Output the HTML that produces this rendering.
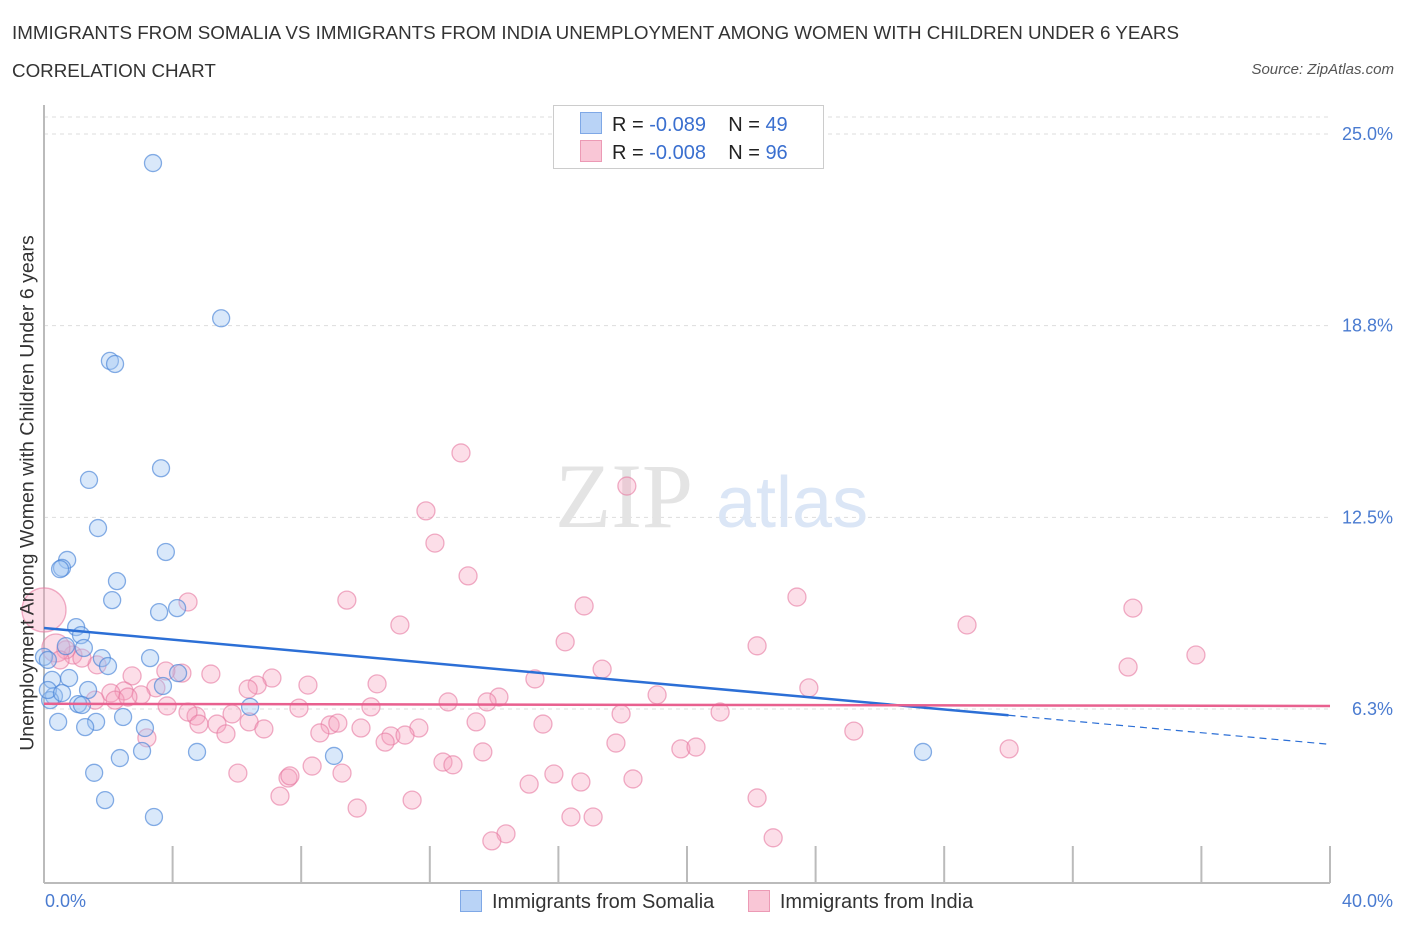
<!DOCTYPE html>
<html><head><meta charset="utf-8"><style>
body{margin:0;background:#fff;font-family:"Liberation Sans",sans-serif;}
#wrap{position:relative;width:1406px;height:930px;overflow:hidden;}
.t{position:absolute;white-space:nowrap;}
</style></head><body>
<div id="wrap">
<div class="t" style="left:12px;top:22px;font-size:18.8px;color:#333;">IMMIGRANTS FROM SOMALIA VS IMMIGRANTS FROM INDIA UNEMPLOYMENT AMONG WOMEN WITH CHILDREN UNDER 6 YEARS</div>
<div class="t" style="left:12px;top:60px;font-size:18.8px;color:#333;">CORRELATION CHART</div>
<div class="t" style="right:12px;top:61px;font-size:15px;color:#555;font-style:italic;">Source: ZipAtlas.com</div>
<svg id="svg" width="1406" height="930" style="position:absolute;left:0;top:0"></svg>
</div>
<script>
const somaliaX=[3.39,5.51,2.05,2.21,3.64,1.40,1.68,3.79,0.72,0.56,0.50,2.27,2.12,3.58,4.14,1.0,1.15,1.24,0.68,3.30,1.80,1.99,0,0.12,0.25,0.78,3.70,1.37,0.31,0.19,1.06,1.18,6.41,2.46,1.62,0.44,1.28,3.14,4.76,3.05,9.02,27.34,2.36,1.56,1.90,3.42,0.12,4.17,0.56];
const somaliaY=[24.05,18.99,17.6,17.5,14.1,13.72,12.15,11.37,11.11,10.85,10.81,10.42,9.8,9.41,9.54,8.92,8.66,8.24,8.3,7.91,7.91,7.65,7.95,7.85,7.2,7.26,7.0,6.87,6.67,6.54,6.41,6.38,6.32,5.99,5.83,5.83,5.66,5.63,4.85,4.88,4.72,4.85,4.65,4.17,3.28,2.73,6.87,7.42,6.77];
const indiaX=[12.97,18.13,11.88,12.16,13.19,4.48,9.42,16.80,23.42,33.87,11.07,28.71,16.21,22.18,35.83,33.72,17.36,0,2.74,5.19,7.09,6.63,4.29,8.21,10.36,3.48,2.49,6.35,14.15,15.27,19.07,23.79,3.83,7.93,10.17,12.57,13.78,17.95,21.03,4.73,5.85,5.38,6.38,8.90,9.14,6.84,9.86,11.66,13.44,15.52,8.58,5.66,10.79,11.23,10.61,3.20,25.19,13.65,17.79,19.81,20.28,30.02,12.41,12.72,8.34,7.59,6.03,9.27,15.86,16.70,18.32,15.09,7.65,7.34,9.74,11.45,22.18,16.39,17.08,14.37,13.93,22.68,2.08,2.21,1.65,0.90,0.68,1.18,0.37,3.02,3.79,4.48,1.59,2.61,0.50,4.82];
const indiaY=[14.60,13.52,12.71,11.66,10.59,9.74,9.80,9.61,9.90,9.54,8.99,8.99,8.44,8.31,8.01,7.62,7.55,9.48,7.33,7.39,7.26,7.03,7.42,7.03,7.07,6.94,6.84,6.90,6.64,7.23,6.71,6.94,6.35,6.28,6.32,6.48,6.48,6.09,6.15,6.02,6.09,5.76,5.83,5.73,5.79,5.60,5.63,5.63,5.83,5.76,5.47,5.44,5.37,5.40,5.17,5.31,5.53,4.85,5.14,4.95,5.01,4.95,4.52,4.43,4.39,4.00,4.16,4.16,4.13,3.87,3.97,3.80,4.07,3.41,3.02,3.28,3.35,2.73,2.73,2.18,1.95,2.05,6.77,6.54,7.69,8.01,8.18,7.91,8.24,6.71,7.49,6.15,6.54,6.64,7.85,5.76];
const indiaBig=[17,88];
const yTicks=[25,18.75,12.5,6.25];
const yTickLabels=["25.0%","18.8%","12.5%","6.3%"];
const somaliaTrend=[8.89,-0.0948]; // intercept, slope
const indiaTrend=[6.42,-0.0018];
const X0=44,X1=1330,Y0=900.7,PPY=30.67;
const xs=v=>X0+(v/40)*(X1-X0), ys=v=>Y0-v*PPY;
const svg=document.getElementById('svg');const NS='http://www.w3.org/2000/svg';
function mk(t,a){const e=document.createElementNS(NS,t);for(const k in a)e.setAttribute(k,a[k]);svg.appendChild(e);return e;}
let g=mk('line',{x1:44,x2:1330,y1:117,y2:117,stroke:'#ddd','stroke-dasharray':'4,4'});

yTicks.forEach((v,i)=>{const l=mk('line',{x1:44,x2:1330,y1:ys(v),y2:ys(v),stroke:'#ddd','stroke-dasharray':'4,4'});

const t=mk('text',{x:1393,y:ys(v)+6,'text-anchor':'end','font-size':18,fill:'#4a7bd0','font-family':'Liberation Sans'});t.textContent=yTickLabels[i];
});
let w=mk('text',{x:555,y:527,'font-size':92,fill:'#e4e4e4','font-family':'Liberation Serif'});w.textContent='ZIP';

let w2=mk('text',{x:716,y:527,'font-size':72,fill:'#dbe6f6','font-family':'Liberation Sans'});w2.textContent='atlas';

let ax=mk('line',{x1:44,x2:1330,y1:883,y2:883,stroke:'#bbb','stroke-width':2});
let ay=mk('line',{x1:44,x2:44,y1:105,y2:883,stroke:'#bbb','stroke-width':2});
for(let i=1;i<=10;i++){const tk=mk('line',{x1:xs(i*4),x2:xs(i*4),y1:846,y2:883,stroke:'#bbb','stroke-width':2});}
indiaX.forEach((x,i)=>{const r=indiaBig[0]===i?22:(indiaBig[1]===i?14:9);const c=mk('circle',{cx:xs(x),cy:ys(indiaY[i]),r:r,fill:'rgba(245,160,190,0.35)',stroke:'rgba(230,120,160,0.6)','stroke-width':1.3});
});
somaliaX.forEach((x,i)=>{const c=mk('circle',{cx:xs(x),cy:ys(somaliaY[i]),r:8.5,fill:'rgba(160,198,242,0.4)',stroke:'rgba(70,130,215,0.65)','stroke-width':1.3});
});
const sy=x=>somaliaTrend[0]+somaliaTrend[1]*x, iy=x=>indiaTrend[0]+indiaTrend[1]*x;
let t1=mk('line',{x1:xs(0),y1:ys(sy(0)),x2:xs(30),y2:ys(sy(30)),stroke:'#2c6fd6','stroke-width':2.5});
let t2=mk('line',{x1:xs(30),y1:ys(sy(30)),x2:xs(40),y2:ys(sy(40)),stroke:'#2c6fd6','stroke-width':1.2,'stroke-dasharray':'7,5'});
let t3=mk('line',{x1:xs(0),y1:ys(iy(0)),x2:xs(40),y2:ys(iy(40)),stroke:'#e8608f','stroke-width':2.5});
</script>
<div class="t" style="left:28px;top:493px;font-size:19.5px;color:#333;transform:translate(-50%,-50%) rotate(-90deg);">Unemployment Among Women with Children Under 6 years</div>
<div class="t" style="left:45px;top:891px;font-size:18px;color:#4a7bd0;">0.0%</div>
<div class="t" style="right:13px;top:891px;font-size:18px;color:#4a7bd0;">40.0%</div>
<div style="position:absolute;left:553px;top:105px;width:269px;height:62px;border:1px solid #ccc;background:#fff;font-size:20px;color:#222;">
 <div style="position:absolute;left:26px;top:6px;white-space:nowrap;"><span style="display:inline-block;width:20px;height:20px;background:#b9d3f6;border:1px solid #7fa8e6;vertical-align:-3px;margin-right:10px;"></span>R = <span style="color:#3a6fcf">-0.089</span>&nbsp;&nbsp;&nbsp; N = <span style="color:#3a6fcf">49</span></div>
 <div style="position:absolute;left:26px;top:34px;white-space:nowrap;"><span style="display:inline-block;width:20px;height:20px;background:#f9c6d6;border:1px solid #ec9ab5;vertical-align:-3px;margin-right:10px;"></span>R = <span style="color:#3a6fcf">-0.008</span>&nbsp;&nbsp;&nbsp; N = <span style="color:#3a6fcf">96</span></div>
</div>
<div style="position:absolute;left:460px;top:890px;font-size:20px;color:#333;white-space:nowrap;">
 <span><span style="display:inline-block;width:20px;height:20px;background:#b9d3f6;border:1px solid #7fa8e6;vertical-align:-4px;margin-right:10px;"></span>Immigrants from Somalia</span>
 <span style="margin-left:28px;"><span style="display:inline-block;width:20px;height:20px;background:#f9c6d6;border:1px solid #ec9ab5;vertical-align:-4px;margin-right:10px;"></span>Immigrants from India</span>
</div>
</body></html>
